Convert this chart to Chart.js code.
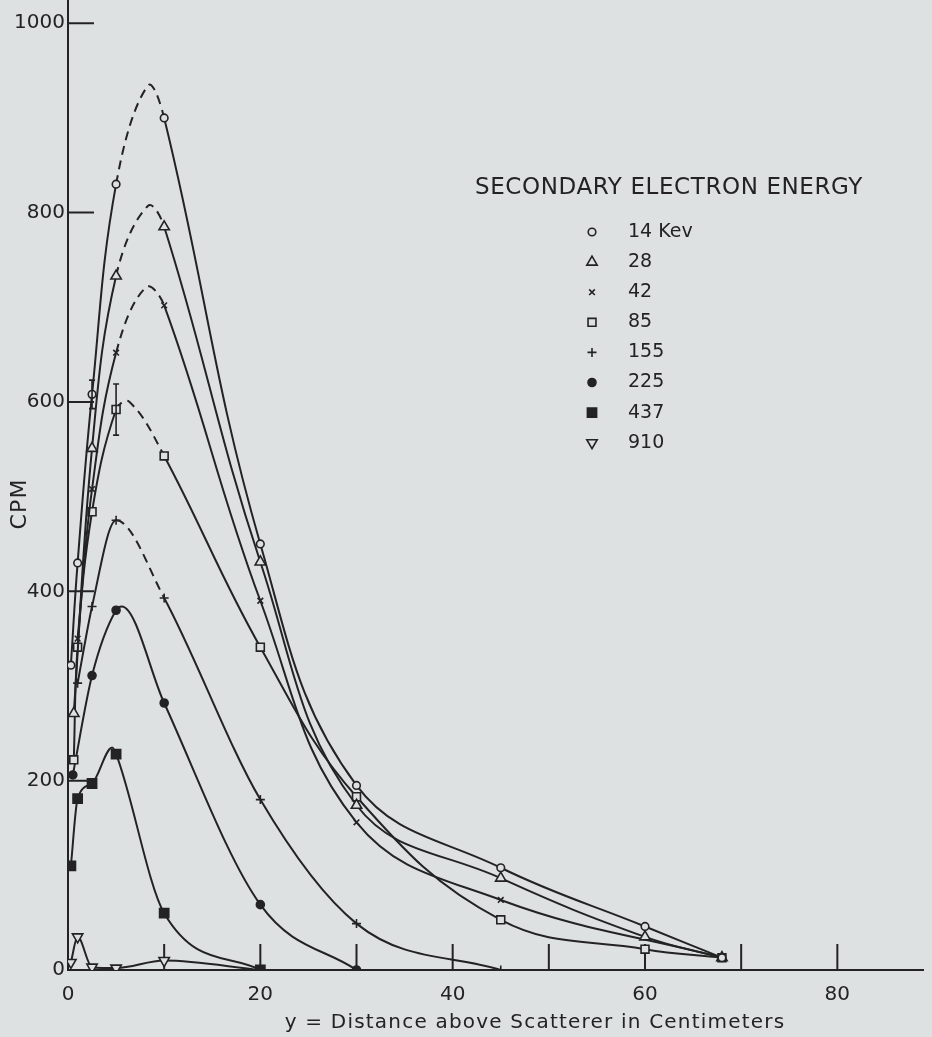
<!DOCTYPE html>
<html>
<head>
<meta charset="utf-8">
<script src="https://cdn.jsdelivr.net/npm/chart.js@4.4.1/dist/chart.umd.min.js"></script>
<style>
  html, body { margin: 0; padding: 0; background: #dee1e2; }
  #wrap { width: 932px; height: 1037px; }
</style>
</head>
<body>
<div id="wrap"><canvas id="chart"></canvas></div>
<script>
const energies = ['14 Kev', '28', '42', '85', '155', '225', '437', '910'];
const legendTitle = 'SECONDARY ELECTRON ENERGY';
const xTitle = 'y = Distance above Scatterer in Centimeters';
const yTitle = 'CPM';
const xTicks = [0, 10, 20, 30, 40, 50, 60, 70, 80];
const yTicks = [0, 200, 400, 600, 800, 1000];

const dist14 = [0.3, 1, 2.5, 5, 8.3, 10, 20, 30, 45, 60, 68];
const cpm14  = [322, 430, 608, 830, 934, 900, 450, 195, 108, 46, 13];
const dist28 = [0.6, 2.5, 5, 8.3, 10, 20, 30, 45, 60, 68];
const cpm28  = [271, 551, 733, 807, 785, 431, 174, 97, 35, 13];
const dist42 = [1, 2.5, 5, 8.1, 10, 20, 30, 45, 68];
const cpm42  = [350, 508, 652, 721, 702, 390, 156, 74, 13];
const dist85 = [0.6, 1, 2.5, 5, 6.4, 10, 20, 30, 45, 60, 68];
const cpm85  = [222, 341, 484, 592, 600, 543, 341, 183, 53, 22, 13];
const dist155 = [1, 2.5, 5, 10, 20, 30, 45];
const cpm155  = [303, 384, 475, 393, 180, 49, 0];
const dist225 = [0.5, 2.5, 5, 5.6, 10, 20, 30];
const cpm225  = [206, 311, 380, 384, 282, 69, 0];
const dist437 = [0.3, 1, 2.5, 4.6, 5, 10, 20];
const cpm437  = [110, 181, 197, 235, 228, 60, 0];
const dist910 = [0.3, 1, 2.5, 5, 10, 20];
const cpm910  = [8, 35, 3, 2, 10, 0];

// points on the traced curve that carry no marker (apexes, run-out)
const unmarked = [[8.3], [8.3], [8.1], [6.4], [], [5.6], [4.6], [20]];
// stretch that is drawn dashed in the original
const dashFrom = [5, 5, 5, 5, 5, null, null, null];
const dashTo   = [10, 10, 10, 10, 10, null, null, null];

// error bars
const errSeries = [0, 3];
const errDist = [2.5, 5];
const errCpm = [608, 592];
const errSize = [15, 27];

const dists = [dist14, dist28, dist42, dist85, dist155, dist225, dist437, dist910];
const cpms = [cpm14, cpm28, cpm42, cpm85, cpm155, cpm225, cpm437, cpm910];

const ink = '#232323';
const paper = '#dee1e2';
const font = '"DejaVu Sans", sans-serif';

const markers = [
  { style: 'circle', r: 3.8, fill: false, rot: 0 },
  { style: 'triangle', r: 6, fill: false, rot: 0 },
  { style: 'crossRot', r: 4, fill: false, rot: 0 },
  { style: 'rect', r: 5.6, fill: false, rot: 0 },
  { style: 'cross', r: 4.5, fill: false, rot: 0 },
  { style: 'circle', r: 4, fill: true, rot: 0 },
  { style: 'rect', r: 6.5, fill: true, rot: 0 },
  { style: 'triangle', r: 6, fill: false, rot: 180 }
];

const datasets = energies.map((label, i) => {
  const m = markers[i];
  return {
    label,
    data: dists[i].map((x, j) => ({ x, y: cpms[i][j] })),
    borderColor: ink,
    borderWidth: 2,
    pointStyle: m.style,
    pointRotation: m.rot,
    pointRadius: ctx => (ctx.raw && unmarked[i].includes(ctx.raw.x)) ? 0 : m.r,
    pointBackgroundColor: m.fill ? ink : paper,
    pointBorderColor: ink,
    pointBorderWidth: 1.6,
    tension: 0.4,
    cubicInterpolationMode: i < 4 ? 'default' : 'monotone',
    segment: {
      borderDash: ctx => (dashFrom[i] !== null && ctx.p0.parsed.x >= dashFrom[i] && ctx.p1.parsed.x <= dashTo[i]) ? [9, 6] : undefined
    }
  };
});

const decor = {
  id: 'decor',
  beforeDraw(chart) {
    const c = chart.ctx;
    c.save();
    c.fillStyle = paper;
    c.fillRect(0, 0, chart.width, chart.height);
    c.restore();
  },
  beforeDatasetsDraw(chart) {
    const c = chart.ctx;
    const xs = chart.scales.x, ys = chart.scales.y;
    const a = chart.chartArea;
    c.save();
    c.strokeStyle = ink;
    c.lineWidth = 2;
    c.beginPath();
    // axis line runs up to the top edge
    c.moveTo(a.left, a.top); c.lineTo(a.left, 0);
    yTicks.forEach(v => {
      if (v === 0) return;
      const y = ys.getPixelForValue(v);
      c.moveTo(a.left, y); c.lineTo(a.left + 26, y);
    });
    xTicks.forEach(v => {
      if (v === 0) return;
      const x = xs.getPixelForValue(v);
      c.moveTo(x, a.bottom); c.lineTo(x, a.bottom - 26);
    });
    c.stroke();
    c.restore();
  },
  afterDraw(chart) {
    const c = chart.ctx;
    const xs = chart.scales.x, ys = chart.scales.y;
    c.save();
    c.strokeStyle = ink;
    c.fillStyle = ink;
    c.lineWidth = 1.6;

    // error bars
    errSeries.forEach((s, k) => {
      const x = xs.getPixelForValue(errDist[k]);
      const y1 = ys.getPixelForValue(errCpm[k] - errSize[k]);
      const y2 = ys.getPixelForValue(errCpm[k] + errSize[k]);
      c.beginPath();
      c.moveTo(x, y1); c.lineTo(x, y2);
      c.moveTo(x - 3, y1); c.lineTo(x + 3, y1);
      c.moveTo(x - 3, y2); c.lineTo(x + 3, y2);
      c.stroke();
    });

    // legend
    c.textBaseline = 'middle';
    c.textAlign = 'left';
    c.font = '23px ' + font;
    c.letterSpacing = '0.6px';
    c.fillText(legendTitle, 475, 188);
    c.letterSpacing = '0px';
    c.font = '19px ' + font;
    energies.forEach((label, i) => {
      const m = markers[i];
      const y = 232 + i * 30.1;
      c.fillStyle = m.fill ? ink : paper;
      Chart.helpers.drawPoint(c, { pointStyle: m.style, radius: m.r, rotation: m.rot, borderWidth: 1.6 }, 592, y);
      c.fillStyle = ink;
      c.fillText(label, 628, y);
    });

    // axis titles
    c.font = '20px ' + font;
    c.textAlign = 'center';
    c.letterSpacing = '1.2px';
    c.fillText(xTitle, 535, 1023);
    c.save();
    c.translate(20, 504);
    c.rotate(-Math.PI / 2);
    c.font = '22px ' + font;
    c.fillText(yTitle, 0, 0);
    c.restore();
    c.restore();
  }
};

new Chart(document.getElementById('chart'), {
  type: 'line',
  data: { datasets },
  options: {
    responsive: true,
    maintainAspectRatio: false,
    animation: false,
    events: [],
    layout: { padding: { top: 0, right: 3, bottom: 0, left: 0 } },
    plugins: { legend: { display: false }, tooltip: { enabled: false } },
    scales: {
      x: {
        type: 'linear',
        min: 0,
        max: 89,
        afterBuildTicks: s => { s.ticks = xTicks.map(v => ({ value: v })); },
        afterFit: s => { s.height = 67; s.paddingLeft = 0; s.paddingRight = 0; },
        ticks: {
          padding: 13,
          color: ink,
          font: { family: font, size: 20 },
          callback: v => (v % 20 === 0 ? String(v) : '')
        },
        grid: { drawOnChartArea: false, drawTicks: false },
        border: { display: true, color: ink, width: 2 }
      },
      y: {
        min: 0,
        max: 1016,
        afterBuildTicks: s => { s.ticks = yTicks.map(v => ({ value: v })); },
        afterFit: s => { s.width = 68; s.paddingTop = 0; s.paddingBottom = 0; },
        ticks: {
          padding: 3,
          color: ink,
          font: { family: font, size: 20 },
          callback: v => String(v)
        },
        grid: { drawOnChartArea: false, drawTicks: false },
        border: { display: true, color: ink, width: 2 }
      }
    }
  },
  plugins: [decor]
});
</script>
</body>
</html>
